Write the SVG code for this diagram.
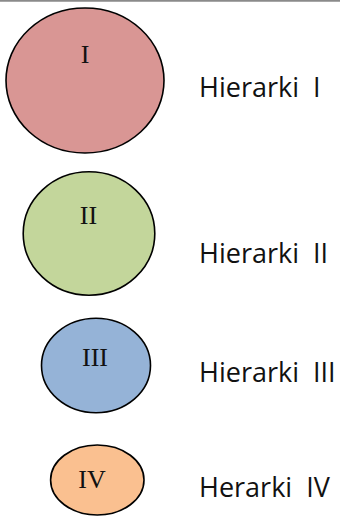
<svg xmlns="http://www.w3.org/2000/svg" width="340" height="516" viewBox="0 0 340 516">
  <style>
    .node ellipse { stroke: #000; stroke-width: 1.6; }
    .num { font-family: "Liberation Serif", "Times New Roman", serif; font-size: 26px; fill: #111; text-anchor: middle; }
    .cap { font-family: "Open Sans", "Noto Sans", sans-serif; font-size: 27px; fill: #111; white-space: pre; }
  </style>
  <rect width="340" height="516" fill="#fff"/>
  <!-- top rule -->
  <line x1="0" y1="0.9" x2="340" y2="0.9" stroke="#8a8a8a" stroke-width="1.6"/>

  <g id="level-1" class="node">
    <ellipse cx="85" cy="80.5" rx="79" ry="72.5" fill="#d99694"/>
    <text class="num" x="85" y="62.5">I</text>
  </g>
  <g id="level-2" class="node">
    <ellipse cx="89" cy="233.5" rx="65.8" ry="61.8" fill="#c3d69b"/>
    <text class="num" x="88.5" y="224">II</text>
  </g>
  <g id="level-3" class="node">
    <ellipse cx="96" cy="365.5" rx="54.5" ry="47.2" fill="#95b3d7"/>
    <text class="num" x="95" y="366">III</text>
  </g>
  <g id="level-4" class="node">
    <ellipse cx="97.3" cy="480" rx="46.7" ry="35" fill="#fac090"/>
    <text class="num" x="92" y="488.3">IV</text>
  </g>

  <g id="labels">
    <text class="cap" x="199" y="96.7" xml:space="preserve">Hierarki  I</text>
    <text class="cap" x="199" y="263.3" xml:space="preserve">Hierarki  II</text>
    <text class="cap" x="199" y="381.7" xml:space="preserve">Hierarki  III</text>
    <text class="cap" x="199" y="496.7" xml:space="preserve">Herarki  IV</text>
  </g>
  <g id="connectors"/>
</svg>
